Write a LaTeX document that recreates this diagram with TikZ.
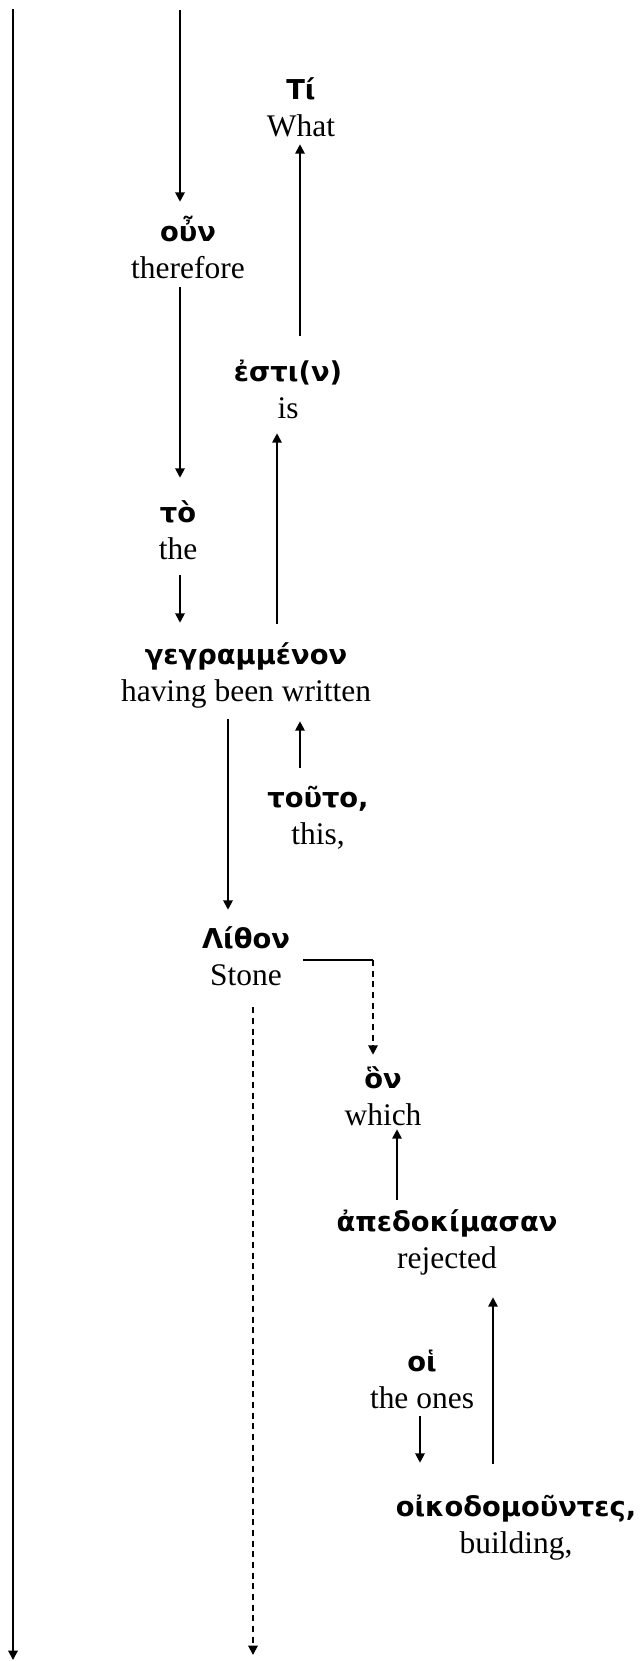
\documentclass[tikz,border=0pt]{standalone}
\usepackage{fontspec}
\setmainfont{Liberation Serif}
\newfontfamily\grkfont{DejaVu Sans}
\usetikzlibrary{arrows.meta}
\newcommand{\gloss}[2]{{\grkfont\bfseries\fontsize{20.5}{27.75}\selectfont\strut #1}\\\strut #2}
\begin{document}
\begin{tikzpicture}[x=0.75pt,y=0.75pt,yscale=-1,xscale=1,
    word/.style={align=center,inner sep=0pt,font=\fontsize{23.6}{27.75}\selectfont},
    arr/.style={line width=1.4pt,-{Triangle[length=7pt,width=7pt]}},
    dasharr/.style={arr,dash pattern=on 4.5pt off 3.5pt}]
\useasboundingbox (0,0) rectangle (642,1661);

\node[word] (ti) at (301,111) {\gloss{Τί}{What}};
\node[word] (oun) at (188,253) {\gloss{οὖν}{therefore}};
\node[word] (esti) at (288,393) {\gloss{ἐστι(ν)}{is}};
\node[word] (to) at (178,534) {\gloss{τὸ}{the}};
\node[word] (gegr) at (246,676) {\gloss{γεγραμμένον}{having been written}};
\node[word] (tout) at (318,819) {\gloss{τοῦτο,}{this,}};
\node[word] (lith) at (246,960) {\gloss{Λίθον}{Stone}};
\node[word] (on) at (383,1100) {\gloss{ὃν}{which}};
\node[word] (apedo) at (447,1243) {\gloss{ἀπεδοκίμασαν}{rejected}};
\node[word] (oi) at (422,1383) {\gloss{οἱ}{the ones}};
\node[word] (oiko) at (516,1528) {\gloss{οἰκοδομοῦντες,}{building,}};

\coordinate (cA) at (180,0);
\coordinate (cB) at (228,0);
\coordinate (cC) at (277,0);
\coordinate (cD) at (300,0);
\coordinate (cE) at (253,0);
\coordinate (cF) at (373,0);
\coordinate (cG) at (397,0);
\coordinate (cH) at (420,0);
\coordinate (cI) at (493,0);
\coordinate (topL) at (13,9);
\coordinate (endL) at (13,1660);
\coordinate (topA) at (180,10);
\coordinate (endE) at (253,1655);

\draw[arr] (topL) -- (endL);
\draw[arr,shorten >=10.5pt] (topA) -- (oun.north -| cA);
\draw[arr,shorten <=-2.25pt,shorten >=14.25pt] (oun.south -| cA) -- (to.north -| cA);
\draw[arr,shorten <=3pt,shorten >=12pt] (to.south -| cA) -- (gegr.north -| cA);
\draw[arr,shorten <=4.5pt,shorten >=9.75pt] (gegr.south -| cB) -- (lith.north -| cB);
\draw[arr,shorten <=10.5pt,shorten >=6pt] (tout.north -| cD) -- (gegr.south -| cD);
\draw[arr,shorten <=11.25pt,shorten >=2.25pt] (gegr.north -| cC) -- (esti.south -| cC);
\draw[arr,shorten <=15pt,shorten >=-3pt] (esti.north -| cD) -- (ti.south -| cD);
\draw[line width=1.4pt,shorten <=9.75pt] (lith.east) -- (lith.east -| cF);
\draw[dasharr,shorten >=6pt] (lith.east -| cF) -- (on.north -| cF);
\draw[dasharr,shorten <=7.5pt] (lith.south -| cE) -- (endE);
\draw[arr,shorten <=4.5pt,shorten >=-6pt] (apedo.north -| cG) -- (on.south -| cG);
\draw[arr,shorten <=20.25pt,shorten >=12.75pt] (oiko.north -| cI) -- (apedo.south -| cI);
\draw[arr,shorten <=-3pt,shorten >=21pt] (oi.south -| cH) -- (oiko.north -| cH);
\end{tikzpicture}
\end{document}
